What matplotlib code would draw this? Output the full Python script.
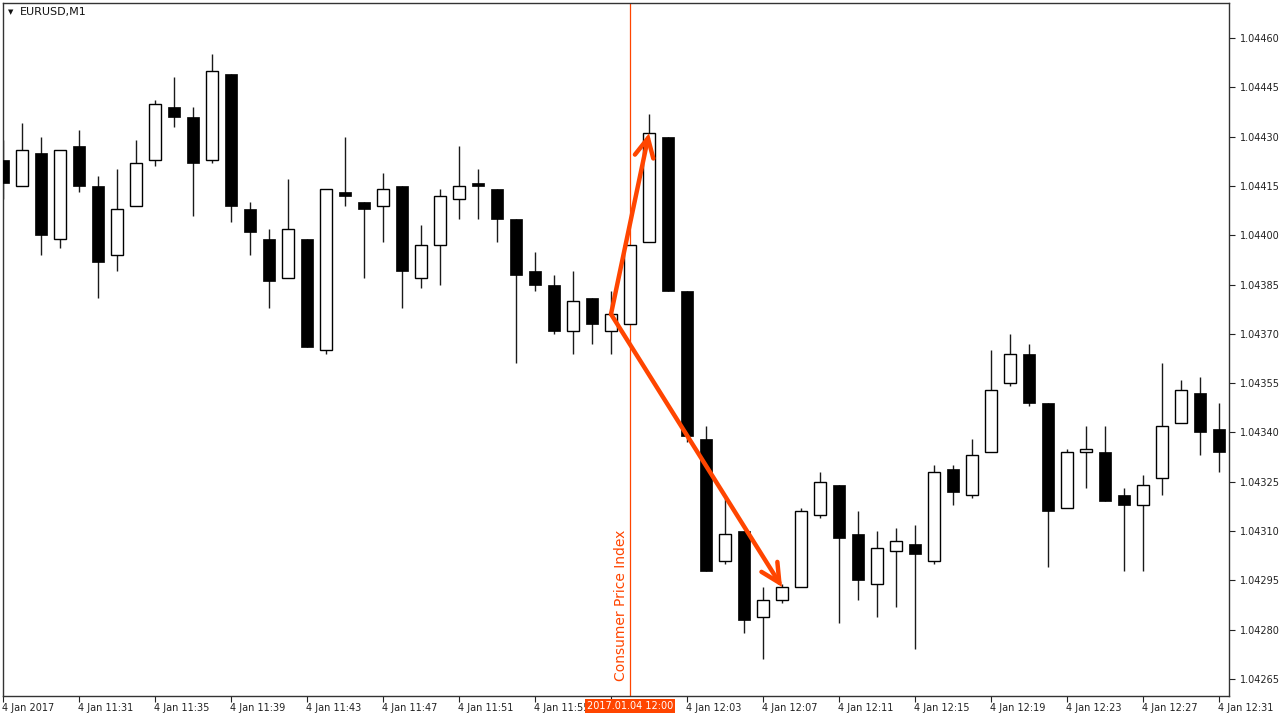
import matplotlib
matplotlib.use("Agg")
import matplotlib.pyplot as plt
import numpy as np

# ---- data (EURUSD M1, 4 Jan 2017 11:27 .. 12:31) ----
opens = [1.04423, 1.04415, 1.04425, 1.04399, 1.04427, 1.04415, 1.04394, 1.04409, 1.04423, 1.04439,
         1.04436, 1.04423, 1.04449, 1.04408, 1.04399, 1.04387, 1.04399, 1.04365, 1.04413, 1.04410,
         1.04409, 1.04415, 1.04387, 1.04397, 1.04411, 1.04416, 1.04414, 1.04405, 1.04389, 1.04385,
         1.04371, 1.04381, 1.04371, 1.04373, 1.04398, 1.04430, 1.04383, 1.04338, 1.04301, 1.04310,
         1.04284, 1.04289, 1.04293, 1.04315, 1.04324, 1.04309, 1.04294, 1.04304, 1.04306, 1.04301,
         1.04329, 1.04321, 1.04334, 1.04355, 1.04364, 1.04349, 1.04317, 1.04334, 1.04334, 1.04321,
         1.04318, 1.04326, 1.04343, 1.04352, 1.04341]
highs = [1.04429, 1.04434, 1.04430, 1.04426, 1.04432, 1.04418, 1.04420, 1.04429, 1.04441, 1.04448,
         1.04439, 1.04455, 1.04449, 1.04410, 1.04402, 1.04417, 1.04399, 1.04414, 1.04430, 1.04410,
         1.04419, 1.04415, 1.04403, 1.04414, 1.04427, 1.04420, 1.04414, 1.04405, 1.04395, 1.04388,
         1.04389, 1.04381, 1.04383, 1.04397, 1.04437, 1.04430, 1.04383, 1.04342, 1.04320, 1.04310,
         1.04293, 1.04294, 1.04317, 1.04328, 1.04324, 1.04316, 1.04310, 1.04311, 1.04312, 1.04330,
         1.04330, 1.04338, 1.04365, 1.04370, 1.04367, 1.04349, 1.04335, 1.04342, 1.04342, 1.04323,
         1.04327, 1.04361, 1.04356, 1.04357, 1.04349]
lows = [1.04411, 1.04415, 1.04394, 1.04396, 1.04413, 1.04381, 1.04389, 1.04409, 1.04421, 1.04433,
        1.04406, 1.04422, 1.04404, 1.04394, 1.04378, 1.04387, 1.04366, 1.04364, 1.04409, 1.04387,
        1.04398, 1.04378, 1.04384, 1.04385, 1.04405, 1.04405, 1.04398, 1.04361, 1.04383, 1.04370,
        1.04364, 1.04367, 1.04364, 1.04373, 1.04398, 1.04383, 1.04337, 1.04298, 1.04300, 1.04279,
        1.04271, 1.04288, 1.04293, 1.04314, 1.04282, 1.04289, 1.04284, 1.04287, 1.04274, 1.04300,
        1.04318, 1.04320, 1.04334, 1.04354, 1.04348, 1.04299, 1.04317, 1.04323, 1.04319, 1.04298,
        1.04298, 1.04321, 1.04343, 1.04333, 1.04328]
closes = [1.04416, 1.04426, 1.04400, 1.04426, 1.04415, 1.04392, 1.04408, 1.04422, 1.04440, 1.04436,
          1.04422, 1.04450, 1.04409, 1.04401, 1.04386, 1.04402, 1.04366, 1.04414, 1.04412, 1.04408,
          1.04414, 1.04389, 1.04397, 1.04412, 1.04415, 1.04415, 1.04405, 1.04388, 1.04385, 1.04371,
          1.04380, 1.04373, 1.04376, 1.04397, 1.04431, 1.04383, 1.04339, 1.04298, 1.04309, 1.04283,
          1.04289, 1.04293, 1.04316, 1.04325, 1.04308, 1.04295, 1.04305, 1.04307, 1.04303, 1.04328,
          1.04322, 1.04333, 1.04353, 1.04364, 1.04349, 1.04316, 1.04334, 1.04335, 1.04319, 1.04318,
          1.04324, 1.04342, 1.04353, 1.04340, 1.04334]

x_tick_idx = [0, 4, 8, 12, 16, 20, 24, 28, 32, 36, 40, 44, 48, 52, 56, 60, 64]
# the 11:59 label is hidden under the event-time box in the reference
x_tick_labels = ["4 Jan 2017", "4 Jan 11:31", "4 Jan 11:35", "4 Jan 11:39", "4 Jan 11:43",
                 "4 Jan 11:47", "4 Jan 11:51", "4 Jan 11:55", "", "4 Jan 12:03",
                 "4 Jan 12:07", "4 Jan 12:11", "4 Jan 12:15", "4 Jan 12:19", "4 Jan 12:23",
                 "4 Jan 12:27", "4 Jan 12:31"]
y_ticks = [1.04265, 1.04280, 1.04295, 1.04310, 1.04325, 1.04340, 1.04355,
           1.04370, 1.04385, 1.04400, 1.04415, 1.04430, 1.04445, 1.04460]
event_idx = 33
event_label = "2017.01.04 12:00"
event_name = "Consumer Price Index"
arrow_start = 32
arrow_ends = [34, 41]
symbol = "EURUSD,M1"

RED = "#FF4500"
W, H = 1280, 720
fig = plt.figure(figsize=(W / 100, H / 100), dpi=100)
plt.rcParams['font.family'] = ['DejaVu Sans']

left_px, right_px, top_px, bot_px = 3, 1229, 3, 696
ax = fig.add_axes([left_px / W, (H - bot_px) / H, (right_px - left_px) / W, (bot_px - top_px) / H])

n = len(opens)
x = np.arange(n)
o = np.array(opens); c = np.array(closes); h = np.array(highs); l = np.array(lows)

ax.vlines(x, l, h, color="#1a1a1a", lw=1.0, zorder=2)
up = c >= o
bottoms = np.minimum(o, c)
heights = np.maximum(np.abs(c - o), 0.000008)
ax.bar(x[up], heights[up], bottom=bottoms[up], width=0.64, color="white",
       edgecolor="black", linewidth=1.0, zorder=3)
ax.bar(x[~up], heights[~up], bottom=bottoms[~up], width=0.66, color="black",
       edgecolor="black", linewidth=0.5, zorder=3)

ax.set_xlim(0, (right_px - left_px) / 19.0)
px_per_unit = 641 / 0.00195
ax.set_ylim(1.04265 - (bot_px - 679) / px_per_unit, 1.04460 + (38 - top_px) / px_per_unit)

# event line
ax.axvline(event_idx, color=RED, lw=0.9, zorder=1)
ax.annotate(event_name, xy=(event_idx, 0), xycoords=('data', 'axes fraction'),
            xytext=(-2, 15), textcoords='offset pixels', rotation=90,
            ha='right', va='bottom', color=RED, fontsize=10, zorder=5)

# arrows
for e in arrow_ends:
    ax.annotate("", xy=(e, closes[e]), xytext=(arrow_start, closes[arrow_start]),
                arrowprops=dict(arrowstyle="->,head_length=0.9,head_width=0.45",
                                color=RED, lw=3.2, mutation_scale=15,
                                shrinkA=0, shrinkB=0, capstyle='round',
                                joinstyle='miter'), zorder=6)

# axes styling
for s in ax.spines.values():
    s.set_color("#333333")
    s.set_linewidth(1.0)
ax.yaxis.tick_right()
ax.set_yticks(y_ticks)
ax.set_yticklabels([f"{v:.5f}" for v in y_ticks])
ax.set_xticks(x_tick_idx)
ax.set_xticklabels(x_tick_labels, ha='left')
ax.tick_params(axis='y', direction='out', length=4, width=0.8, pad=4, labelsize=7,
               colors="#222222")
ax.tick_params(axis='x', direction='out', length=4, width=0.8, pad=1, labelsize=7,
               colors="#222222")
for lbl in ax.get_xticklabels():
    lbl.set_transform(lbl.get_transform() + matplotlib.transforms.ScaledTranslation(-1 / 100, 0, fig.dpi_scale_trans))

# symbol header
fig.text(8 / W, 1 - 12 / H, "\u25bc", fontsize=5, color="#111111", va='center', ha='left')
fig.text(20 / W, 1 - 12 / H, symbol, fontsize=8, color="#111111", va='center', ha='left')

# event time box on the x axis
fig.text((left_px + event_idx * 19) / W, 1 - 706 / H, event_label, fontsize=7, color="white",
         ha='center', va='center', zorder=10,
         bbox=dict(boxstyle='square,pad=0.2', fc=RED, ec='none'))

fig.savefig("out.png", dpi=100, facecolor="white")
